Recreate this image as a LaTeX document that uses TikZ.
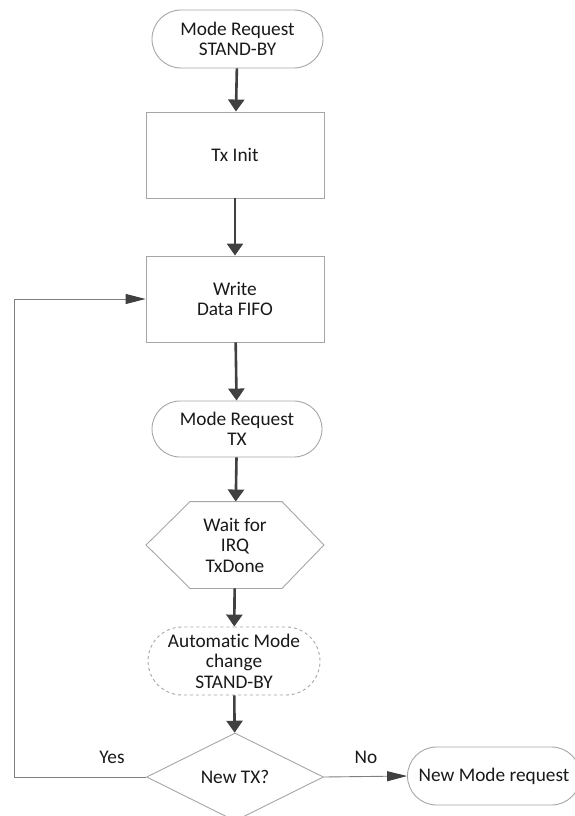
\documentclass[tikz,border=0pt]{standalone}
\usepackage{fontspec}
\setmainfont[Ligatures=NoCommon]{Carlito}
\usetikzlibrary{calc}
\usetikzlibrary{arrows.meta}
\usetikzlibrary{shapes.geometric,shapes.misc}

\definecolor{edgegray}{HTML}{A6A6A6}
\definecolor{flowgray}{HTML}{404040}
\definecolor{loopgray}{HTML}{7F7F7F}

\tikzset{
  base/.style={draw=edgegray,line width=0.9pt,fill=white,align=center,text=black!90,
    font=\fontsize{19.3pt}{20.5pt}\selectfont},
  term/.style={base,rounded rectangle,minimum width=175pt,minimum height=58pt,inner sep=2pt},
  procbox/.style={base,rectangle,minimum width=178pt,minimum height=86pt},
  decide/.style={base,diamond,minimum width=177pt,minimum height=88pt,inner sep=0pt},
  flow/.style={flowgray,line width=2.6pt,-{Triangle[length=12pt,width=16pt]}},
  back/.style={loopgray,line width=0.9pt,-{Triangle[length=20pt,width=10pt,color=flowgray]}}
}

\begin{document}
\begin{tikzpicture}[x=1pt,y=-1pt]

\useasboundingbox (0,0) rectangle (574,816);

\node[term] (modeSB) at (237.5,39) {Mode Request\\STAND-BY};
\node[procbox] (txinit) at (235,155) {Tx Init};
\node[procbox] (fifo) at (235,299) {Write\\Data FIFO};
\node[term,minimum width=174pt,minimum height=56pt] (modeTX) at (237,429) {Mode Request\\TX};
\node[base,draw=none,fill=none,minimum width=177pt,minimum height=86pt] (wait) at (235,545) {Wait for\\IRQ\\TxDone};
\draw[edgegray,line width=0.9pt] (wait.west) -- ($(wait.north west)+(44,0)$) -- ($(wait.north east)+(-42,0)$)
  -- (wait.east) -- ($(wait.south east)+(-42,0)$) -- ($(wait.south west)+(44,0)$) -- cycle;
\node[term,dashed,minimum width=176pt,minimum height=68pt] (autoSB) at (234,661) {Automat\kern0pt ic Mode\\change\\STAND-BY};
\node[decide] (newTX) at (235,777) {New TX?};
\node[term,minimum width=177pt] (newmode) at (494,776) {New Mode request};

\draw[flow] (modeSB) -- (txinit);
\draw[flow] (txinit) -- (fifo);
\draw[flow] (fifo) -- (modeTX);
\draw[flow] (modeTX) -- (wait);
\draw[flow] (wait) -- (autoSB);
\draw[flow] (autoSB) -- (newTX);

\draw[back] (newTX.west) -- ++(-132,0) coordinate (loopcorner) |- (fifo.west);
\draw[back] (newTX.east) -- (newmode.west);

\node[font=\fontsize{19.3pt}{20.5pt}\selectfont,text=black!90] (yes) at (112,757) {Yes};
\node[font=\fontsize{19.3pt}{20.5pt}\selectfont,text=black!90] (no) at (366,757) {No};

\end{tikzpicture}
\end{document}
